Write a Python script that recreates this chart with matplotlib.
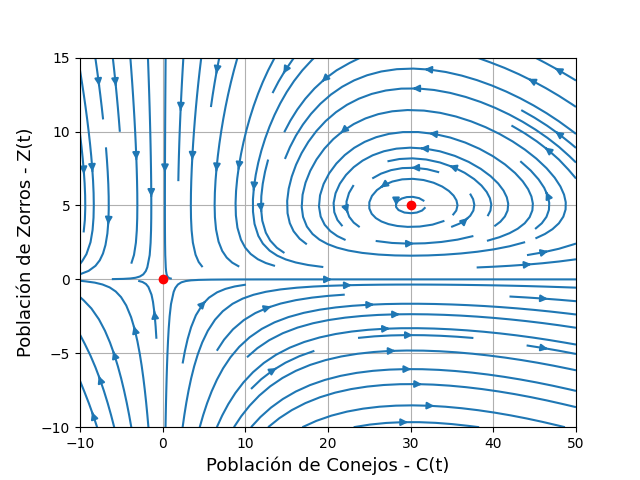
import numpy as np
import matplotlib
matplotlib.use("Agg")
import matplotlib.pyplot as plt

# Lotka-Volterra parameters
alpha = 0.1
beta = 0.02
gamma = 0.33
delta = 0.011
equilibria_c = [0, 30]
equilibria_z = [0, 5]

c = np.linspace(-10, 50, 200)
z = np.linspace(-10, 15, 200)
C, Z = np.meshgrid(c, z)
dC = alpha * C - beta * C * Z
dZ = -gamma * Z + delta * C * Z

fig, ax = plt.subplots(figsize=(6.4, 4.8), dpi=100)
ax.streamplot(C, Z, dC, dZ, color='#1f77b4', linewidth=1.5, density=1)
ax.plot(equilibria_c, equilibria_z, 'o', color='red')
ax.set_xlim(-10, 50)
ax.set_ylim(-10, 15)
ax.set_xlabel('Población de Conejos - C(t)', fontsize=13)
ax.set_ylabel('Población de Zorros - Z(t)', fontsize=13)
ax.grid(True)
fig.savefig('out.png')
